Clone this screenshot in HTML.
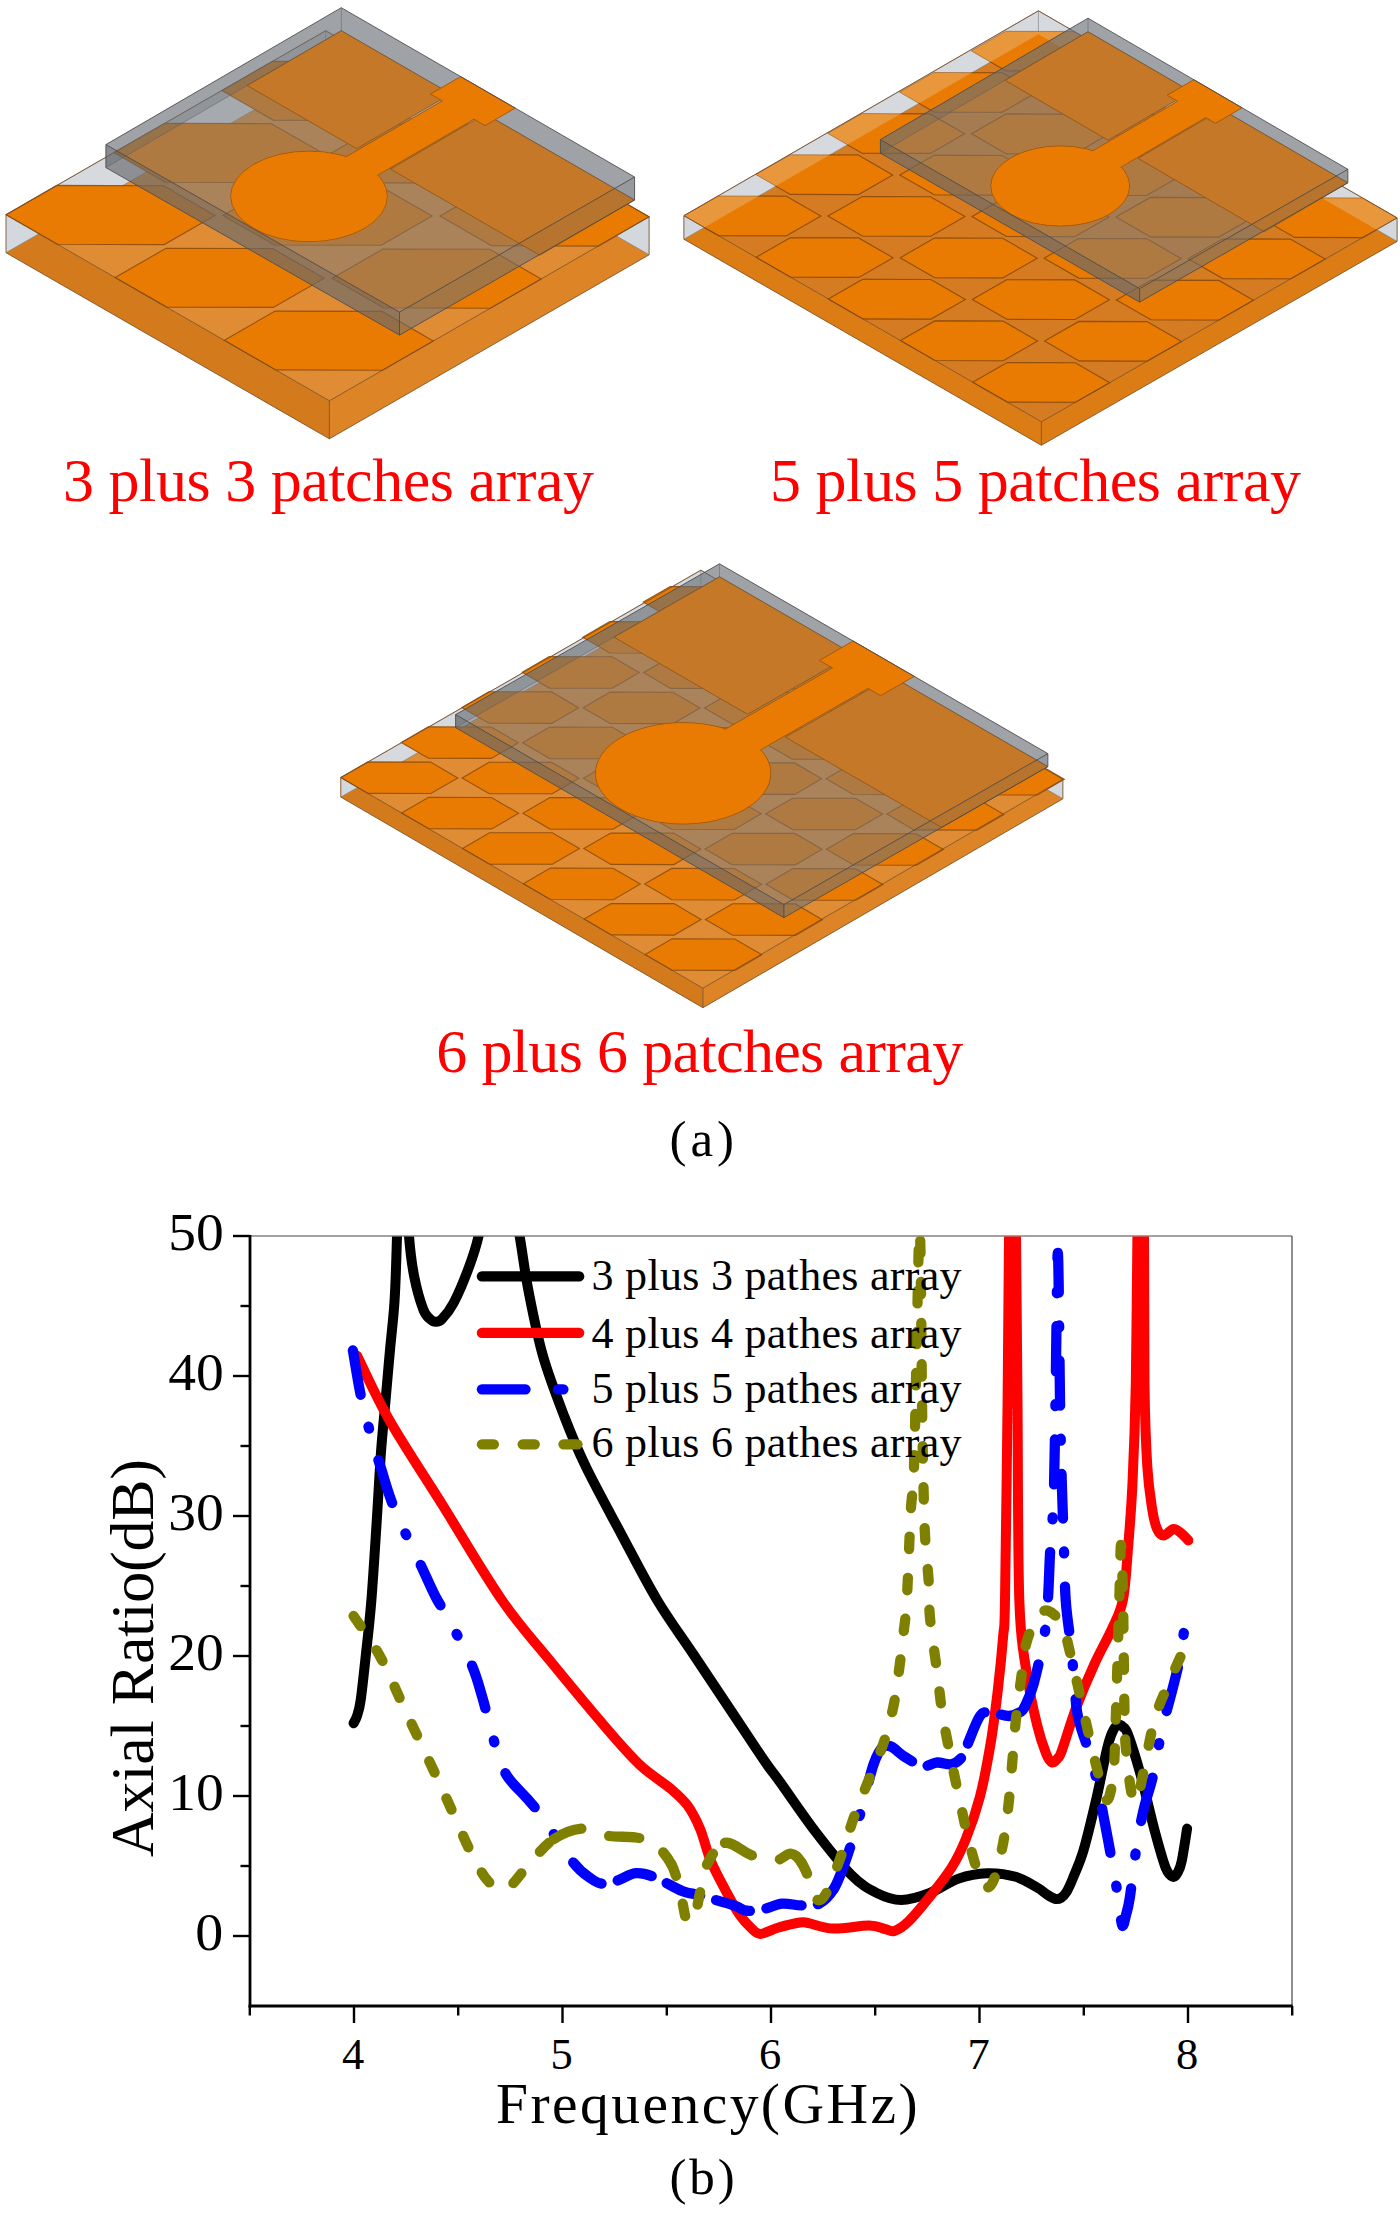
<!DOCTYPE html>
<html lang="en">
<head>
<meta charset="utf-8">
<title>Patch array antennas and axial ratio</title>
<style>
html,body{margin:0;padding:0;background:#fff;}
body{width:1400px;height:2214px;overflow:hidden;}
svg{display:block;}
svg text{font-family:'Liberation Serif',serif;}
</style>
</head>
<body>
<svg width="1400" height="2214" viewBox="0 0 1400 2214">
<defs>
<clipPath id="gclip1"><polygon points="6.0,252.7 329.4,438.8 649.1,254.8 325.7,68.7"/></clipPath>
<clipPath id="gclip2"><polygon points="683.9,239.2 1041.4,445.3 1397.1,241.4 1038.4,34.3"/></clipPath>
<clipPath id="gclip3"><polygon points="340.8,797.1 702.9,1007.7 1062.9,798.8 700.8,589.7"/></clipPath>
<clipPath id="plotclip"><rect x="250.0" y="1236.5" width="1042.0" height="770.0"/></clipPath>
</defs>
<rect x="0" y="0" width="1400" height="2214" fill="#fff"/>
<g id="ant1">
<polygon points="6.0,214.7 329.4,400.8 649.1,216.8 325.7,30.7" fill="#D6D9DD" />
<polygon points="6.0,214.7 329.4,400.8 329.4,438.8 6.0,252.7" fill="#D37A1C" />
<polygon points="329.4,400.8 649.1,216.8 649.1,254.8 329.4,438.8" fill="#DC8426" />
<polygon points="6.0,214.7 6.0,252.7 39.0,233.7" fill="#D3D8DE" />
<polygon points="649.1,216.8 649.1,254.8 616.1,235.8" fill="#D3D8DE" />
<polygon points="39.0,233.7 329.4,400.8 616.1,235.8 325.7,68.7" fill="#E08C34" />
<g stroke="#6E7680" stroke-width="0.8" fill="none" stroke-opacity="0.7">
<polyline points="6.0,252.7 39.0,233.7"/>
<polyline points="649.1,254.8 616.1,235.8"/>
<polyline points="39.0,233.7 325.7,68.7 616.1,235.8"/>
<polyline points="325.7,30.7 325.7,68.7"/>
<polyline points="6.0,214.7 325.7,30.7 649.1,216.8"/>
</g>
<g fill="#E97B02" stroke="#8A4A0A" stroke-width="1.1" stroke-opacity="0.85">
<polygon points="6.0,214.7 57.4,244.3 164.2,244.6 215.0,215.4 163.6,185.8 56.8,185.4"/>
<polygon points="113.9,152.6 165.3,182.2 272.1,182.5 322.9,153.3 271.5,123.7 164.7,123.3"/>
<polygon points="221.8,90.5 273.2,120.1 380.0,120.4 430.8,91.2 379.4,61.6 272.6,61.2"/>
<polygon points="115.1,277.5 166.6,307.1 273.3,307.4 324.2,278.2 272.7,248.6 166.0,248.3"/>
<polygon points="223.0,215.4 274.5,245.0 381.2,245.3 432.1,216.1 380.6,186.5 273.9,186.2"/>
<polygon points="330.9,153.3 382.4,182.9 489.1,183.2 540.0,154.0 488.5,124.4 381.8,124.1"/>
<polygon points="224.3,340.3 275.7,369.9 382.5,370.3 433.3,341.0 381.9,311.4 275.1,311.1"/>
<polygon points="332.2,278.2 383.6,307.8 490.4,308.2 541.2,278.9 489.8,249.3 383.0,249.0"/>
<polygon points="440.1,216.1 491.5,245.7 598.3,246.1 649.1,216.8 597.7,187.2 490.9,186.9"/>
</g>
<g stroke="#7A4E22" stroke-width="1" fill="none" stroke-opacity="0.85">
<polygon points="6.0,214.7 329.4,400.8 649.1,216.8 325.7,30.7"/>
<polyline points="6.0,214.7 6.0,252.7 329.4,438.8 649.1,254.8 649.1,216.8"/>
<polyline points="329.4,400.8 329.4,438.8"/>
</g>
<polygon points="105.9,144.6 341.3,7.7 634.6,177.0 634.6,200.0 399.5,335.1 105.9,167.6" fill="#767A80" fill-opacity="0.5" />
<polygon points="105.9,144.6 341.3,7.7 341.3,30.7 105.9,167.6" fill="#586068" fill-opacity="0.28" />
<polygon points="341.3,7.7 634.6,177.0 634.6,200.0 341.3,30.7" fill="#586068" fill-opacity="0.28" />
<polygon points="341.3,30.7 450.8,93.9 356.6,148.7 247.1,85.5" fill="#C47828" stroke="#8A5418" stroke-width="0.8" />
<polygon points="485.4,113.9 634.6,200.0 539.7,255.2 390.5,169.1" fill="#C47828" stroke="#8A5418" stroke-width="0.8" />
<polygon points="105.9,144.6 399.5,312.1 399.5,335.1 105.9,167.6" fill="#5A5A5A" fill-opacity="0.32" />
<polygon points="399.5,312.1 634.6,177.0 634.6,200.0 399.5,335.1" fill="#5A5A5A" fill-opacity="0.13" />
<g stroke="#555" stroke-width="0.8" fill="none" stroke-opacity="0.55">
<polyline points="105.9,167.6 341.3,30.7 634.6,200.0"/>
<polyline points="341.3,7.7 341.3,30.7"/>
</g>
<g fill="#E97B02" stroke="#A55A0C" stroke-width="1">
<ellipse cx="309.0" cy="196.4" rx="78.3" ry="45.3"/>
<polygon points="442.3,100.9 430.5,94.1 460.7,76.6 515.2,108.1 485.1,125.6 474.0,119.2 339.3,197.5 307.6,179.2"/>
</g>
<ellipse cx="309.0" cy="196.4" rx="77.5" ry="44.5" fill="#E97B02"/>
<polygon points="385.8,169.8 334.0,199.9 303.5,182.3 355.3,152.2" fill="#E97B02" />
<g stroke="#4A4A4A" stroke-width="1" fill="none" stroke-opacity="0.85">
<polygon points="105.9,144.6 399.5,312.1 634.6,177.0 341.3,7.7"/>
<polyline points="105.9,144.6 105.9,167.6 399.5,335.1 634.6,200.0 634.6,177.0"/>
<polyline points="399.5,312.1 399.5,335.1"/>
</g>
</g>
<g id="ant2">
<polygon points="683.9,215.7 1041.4,421.8 1397.1,217.9 1038.4,10.8" fill="#D6D9DD" />
<polygon points="683.9,215.7 1041.4,421.8 1041.4,445.3 683.9,239.2" fill="#DC7C14" />
<polygon points="1041.4,421.8 1397.1,217.9 1397.1,241.4 1041.4,445.3" fill="#DC7C14" />
<polygon points="683.9,215.7 683.9,239.2 704.3,227.5" fill="#D3D8DE" />
<polygon points="1397.1,217.9 1397.1,241.4 1376.7,229.6" fill="#D3D8DE" />
<polygon points="704.3,227.5 1041.4,421.8 1376.7,229.6 1038.4,34.3" fill="#D57C22" />
<g stroke="#6E7680" stroke-width="0.8" fill="none" stroke-opacity="0.7">
<polyline points="683.9,239.2 704.3,227.5"/>
<polyline points="1397.1,241.4 1376.7,229.6"/>
<polyline points="704.3,227.5 1038.4,34.3 1376.7,229.6"/>
<polyline points="1038.4,10.8 1038.4,34.3"/>
<polyline points="683.9,215.7 1038.4,10.8 1397.1,217.9"/>
</g>
<g fill="#E9973C" stroke="#8A4A0A" stroke-width="0.9" stroke-opacity="0.6">
<polygon points="683.9,215.7 718.4,235.6 786.5,235.8 820.8,216.1 786.3,196.2 718.2,196.0"/>
<polygon points="755.8,174.5 790.3,194.4 858.4,194.6 892.7,174.9 858.2,155.0 790.1,154.8"/>
<polygon points="827.6,133.3 862.1,153.2 930.2,153.4 964.5,133.7 930.0,113.9 861.9,113.6"/>
<polygon points="899.5,92.1 934.0,112.0 1002.1,112.2 1036.4,92.6 1001.9,72.7 933.8,72.5"/>
<polygon points="971.3,50.9 1005.8,70.8 1073.9,71.0 1108.2,51.4 1073.7,31.5 1005.6,31.3"/>
<polygon points="756.1,257.3 790.6,277.2 858.7,277.4 893.0,257.8 858.6,237.9 790.4,237.7"/>
<polygon points="828.0,216.1 862.5,236.0 930.6,236.2 964.9,216.6 930.4,196.7 862.3,196.5"/>
<polygon points="899.8,175.0 934.3,194.8 1002.4,195.1 1036.8,175.4 1002.3,155.5 934.1,155.3"/>
<polygon points="971.7,133.8 1006.2,153.7 1074.3,153.9 1108.6,134.2 1074.1,114.3 1006.0,114.1"/>
<polygon points="1043.5,92.6 1078.0,112.5 1146.1,112.7 1180.5,93.0 1146.0,73.1 1077.8,72.9"/>
<polygon points="828.3,299.0 862.8,318.9 930.9,319.1 965.3,299.4 930.8,279.5 862.7,279.3"/>
<polygon points="900.2,257.8 934.7,277.7 1002.8,277.9 1037.1,258.2 1002.6,238.3 934.5,238.1"/>
<polygon points="972.0,216.6 1006.5,236.5 1074.6,236.7 1109.0,217.0 1074.5,197.1 1006.4,196.9"/>
<polygon points="1043.9,175.4 1078.4,195.3 1146.5,195.5 1180.8,175.8 1146.3,155.9 1078.2,155.7"/>
<polygon points="1115.7,134.2 1150.2,154.1 1218.3,154.3 1252.7,134.6 1218.2,114.7 1150.1,114.5"/>
<polygon points="900.5,340.6 935.0,360.5 1003.2,360.7 1037.5,341.0 1003.0,321.1 934.9,320.9"/>
<polygon points="972.4,299.4 1006.9,319.3 1075.0,319.5 1109.3,299.8 1074.8,279.9 1006.7,279.7"/>
<polygon points="1044.2,258.2 1078.7,278.1 1146.9,278.3 1181.2,258.6 1146.7,238.8 1078.6,238.5"/>
<polygon points="1116.1,217.0 1150.6,236.9 1218.7,237.1 1253.0,217.5 1218.5,197.6 1150.4,197.4"/>
<polygon points="1188.0,175.8 1222.4,195.7 1290.6,195.9 1324.9,176.3 1290.4,156.4 1222.3,156.2"/>
<polygon points="972.8,382.2 1007.3,402.1 1075.4,402.3 1109.7,382.7 1075.2,362.8 1007.1,362.6"/>
<polygon points="1044.6,341.0 1079.1,360.9 1147.2,361.1 1181.5,341.5 1147.0,321.6 1078.9,321.4"/>
<polygon points="1116.5,299.9 1151.0,319.7 1219.1,320.0 1253.4,300.3 1218.9,280.4 1150.8,280.2"/>
<polygon points="1188.3,258.7 1222.8,278.6 1290.9,278.8 1325.2,259.1 1290.7,239.2 1222.6,239.0"/>
<polygon points="1260.2,217.5 1294.7,237.4 1362.8,237.6 1397.1,217.9 1362.6,198.0 1294.5,197.8"/>
</g>
<g clip-path="url(#gclip2)" fill="#E97B02" stroke="#8A4A0A" stroke-width="1.1" stroke-opacity="0.85">
<polygon points="683.9,215.7 718.4,235.6 786.5,235.8 820.8,216.1 786.3,196.2 718.2,196.0"/>
<polygon points="755.8,174.5 790.3,194.4 858.4,194.6 892.7,174.9 858.2,155.0 790.1,154.8"/>
<polygon points="827.6,133.3 862.1,153.2 930.2,153.4 964.5,133.7 930.0,113.9 861.9,113.6"/>
<polygon points="899.5,92.1 934.0,112.0 1002.1,112.2 1036.4,92.6 1001.9,72.7 933.8,72.5"/>
<polygon points="971.3,50.9 1005.8,70.8 1073.9,71.0 1108.2,51.4 1073.7,31.5 1005.6,31.3"/>
<polygon points="756.1,257.3 790.6,277.2 858.7,277.4 893.0,257.8 858.6,237.9 790.4,237.7"/>
<polygon points="828.0,216.1 862.5,236.0 930.6,236.2 964.9,216.6 930.4,196.7 862.3,196.5"/>
<polygon points="899.8,175.0 934.3,194.8 1002.4,195.1 1036.8,175.4 1002.3,155.5 934.1,155.3"/>
<polygon points="971.7,133.8 1006.2,153.7 1074.3,153.9 1108.6,134.2 1074.1,114.3 1006.0,114.1"/>
<polygon points="1043.5,92.6 1078.0,112.5 1146.1,112.7 1180.5,93.0 1146.0,73.1 1077.8,72.9"/>
<polygon points="828.3,299.0 862.8,318.9 930.9,319.1 965.3,299.4 930.8,279.5 862.7,279.3"/>
<polygon points="900.2,257.8 934.7,277.7 1002.8,277.9 1037.1,258.2 1002.6,238.3 934.5,238.1"/>
<polygon points="972.0,216.6 1006.5,236.5 1074.6,236.7 1109.0,217.0 1074.5,197.1 1006.4,196.9"/>
<polygon points="1043.9,175.4 1078.4,195.3 1146.5,195.5 1180.8,175.8 1146.3,155.9 1078.2,155.7"/>
<polygon points="1115.7,134.2 1150.2,154.1 1218.3,154.3 1252.7,134.6 1218.2,114.7 1150.1,114.5"/>
<polygon points="900.5,340.6 935.0,360.5 1003.2,360.7 1037.5,341.0 1003.0,321.1 934.9,320.9"/>
<polygon points="972.4,299.4 1006.9,319.3 1075.0,319.5 1109.3,299.8 1074.8,279.9 1006.7,279.7"/>
<polygon points="1044.2,258.2 1078.7,278.1 1146.9,278.3 1181.2,258.6 1146.7,238.8 1078.6,238.5"/>
<polygon points="1116.1,217.0 1150.6,236.9 1218.7,237.1 1253.0,217.5 1218.5,197.6 1150.4,197.4"/>
<polygon points="1188.0,175.8 1222.4,195.7 1290.6,195.9 1324.9,176.3 1290.4,156.4 1222.3,156.2"/>
<polygon points="972.8,382.2 1007.3,402.1 1075.4,402.3 1109.7,382.7 1075.2,362.8 1007.1,362.6"/>
<polygon points="1044.6,341.0 1079.1,360.9 1147.2,361.1 1181.5,341.5 1147.0,321.6 1078.9,321.4"/>
<polygon points="1116.5,299.9 1151.0,319.7 1219.1,320.0 1253.4,300.3 1218.9,280.4 1150.8,280.2"/>
<polygon points="1188.3,258.7 1222.8,278.6 1290.9,278.8 1325.2,259.1 1290.7,239.2 1222.6,239.0"/>
<polygon points="1260.2,217.5 1294.7,237.4 1362.8,237.6 1397.1,217.9 1362.6,198.0 1294.5,197.8"/>
</g>
<g stroke="#7A4E22" stroke-width="1" fill="none" stroke-opacity="0.85">
<polygon points="683.9,215.7 1041.4,421.8 1397.1,217.9 1038.4,10.8"/>
<polyline points="683.9,215.7 683.9,239.2 1041.4,445.3 1397.1,241.4 1397.1,217.9"/>
<polyline points="1041.4,421.8 1041.4,445.3"/>
</g>
<polygon points="880.4,139.6 1088.0,18.2 1347.9,169.3 1347.9,182.8 1139.6,302.1 880.4,153.1" fill="#767A80" fill-opacity="0.5" />
<polygon points="880.4,139.6 1088.0,18.2 1088.0,31.7 880.4,153.1" fill="#586068" fill-opacity="0.28" />
<polygon points="1088.0,18.2 1347.9,169.3 1347.9,182.8 1088.0,31.7" fill="#586068" fill-opacity="0.28" />
<polygon points="1088.0,31.7 1191.0,91.6 1108.0,140.2 1005.0,80.3" fill="#C47828" stroke="#8A5418" stroke-width="0.8" />
<polygon points="1221.7,109.4 1347.9,182.8 1264.2,231.7 1138.0,158.4" fill="#C47828" stroke="#8A5418" stroke-width="0.8" />
<polygon points="880.4,139.6 1139.6,288.6 1139.6,302.1 880.4,153.1" fill="#5A5A5A" fill-opacity="0.32" />
<polygon points="1139.6,288.6 1347.9,169.3 1347.9,182.8 1139.6,302.1" fill="#5A5A5A" fill-opacity="0.13" />
<g stroke="#555" stroke-width="0.8" fill="none" stroke-opacity="0.55">
<polyline points="880.4,153.1 1088.0,31.7 1347.9,182.8"/>
<polyline points="1088.0,18.2 1088.0,31.7"/>
</g>
<g fill="#E97B02" stroke="#A55A0C" stroke-width="1">
<ellipse cx="1060.2" cy="186.0" rx="69.4" ry="40.1"/>
<polygon points="1177.6,101.3 1167.2,95.2 1193.8,79.7 1242.1,107.8 1215.5,123.3 1205.7,117.6 1086.9,187.0 1058.9,170.7"/>
</g>
<ellipse cx="1060.2" cy="186.0" rx="68.6" ry="39.3" fill="#E97B02"/>
<polygon points="1127.9,162.5 1082.3,189.2 1055.2,173.5 1100.9,146.7" fill="#E97B02" />
<g stroke="#4A4A4A" stroke-width="1" fill="none" stroke-opacity="0.85">
<polygon points="880.4,139.6 1139.6,288.6 1347.9,169.3 1088.0,18.2"/>
<polyline points="880.4,139.6 880.4,153.1 1139.6,302.1 1347.9,182.8 1347.9,169.3"/>
<polyline points="1139.6,288.6 1139.6,302.1"/>
</g>
</g>
<g id="ant3">
<polygon points="340.8,777.6 702.9,988.2 1062.9,779.3 700.8,570.2" fill="#D6D9DD" />
<polygon points="340.8,777.6 702.9,988.2 702.9,1007.7 340.8,797.1" fill="#D37A1C" />
<polygon points="702.9,988.2 1062.9,779.3 1062.9,798.8 702.9,1007.7" fill="#DC8426" />
<polygon points="340.8,777.6 340.8,797.1 357.6,787.4" fill="#D3D8DE" />
<polygon points="1062.9,779.3 1062.9,798.8 1046.1,789.0" fill="#D3D8DE" />
<polygon points="357.6,787.4 702.9,988.2 1046.1,789.0 700.8,589.7" fill="#E08C34" />
<g stroke="#6E7680" stroke-width="0.8" fill="none" stroke-opacity="0.7">
<polyline points="340.8,797.1 357.6,787.4"/>
<polyline points="1062.9,798.8 1046.1,789.0"/>
<polyline points="357.6,787.4 700.8,589.7 1046.1,789.0"/>
<polyline points="700.8,570.2 700.8,589.7"/>
<polyline points="340.8,777.6 700.8,570.2 1062.9,779.3"/>
</g>
<g fill="#E97B02" stroke="#8A4A0A" stroke-width="1.1" stroke-opacity="0.85">
<polygon points="340.8,777.6 368.0,793.4 430.8,793.5 457.8,777.9 430.6,762.1 367.8,761.9"/>
<polygon points="401.3,742.5 428.4,758.3 491.3,758.4 518.3,742.8 491.1,727.0 428.3,726.8"/>
<polygon points="461.8,707.4 488.9,723.2 551.7,723.4 578.7,707.7 551.6,691.9 488.8,691.7"/>
<polygon points="522.2,672.3 549.4,688.1 612.2,688.3 639.2,672.6 612.1,656.8 549.2,656.6"/>
<polygon points="582.7,637.2 609.9,653.0 672.7,653.2 699.7,637.5 672.5,621.7 609.7,621.6"/>
<polygon points="643.2,602.1 670.4,617.9 733.2,618.1 760.2,602.4 733.0,586.6 670.2,586.5"/>
<polygon points="401.6,813.0 428.8,828.8 491.6,828.9 518.6,813.3 491.5,797.5 428.6,797.3"/>
<polygon points="462.1,777.9 489.3,793.7 552.1,793.8 579.1,778.2 551.9,762.4 489.1,762.2"/>
<polygon points="522.6,742.8 549.8,758.6 612.6,758.7 639.6,743.1 612.4,727.3 549.6,727.1"/>
<polygon points="583.1,707.7 610.2,723.5 673.1,723.6 700.1,708.0 672.9,692.2 610.1,692.0"/>
<polygon points="643.6,672.6 670.7,688.4 733.5,688.5 760.5,672.9 733.4,657.1 670.6,656.9"/>
<polygon points="704.0,637.5 731.2,653.3 794.0,653.4 821.0,637.8 793.9,622.0 731.0,621.8"/>
<polygon points="462.5,848.4 489.6,864.2 552.4,864.3 579.4,848.6 552.3,832.8 489.5,832.7"/>
<polygon points="522.9,813.3 550.1,829.1 612.9,829.2 639.9,813.5 612.8,797.7 549.9,797.6"/>
<polygon points="583.4,778.2 610.6,794.0 673.4,794.1 700.4,778.4 673.2,762.7 610.4,762.5"/>
<polygon points="643.9,743.1 671.1,758.9 733.9,759.0 760.9,743.4 733.7,727.6 670.9,727.4"/>
<polygon points="704.4,708.0 731.5,723.8 794.4,723.9 821.4,708.3 794.2,692.5 731.4,692.3"/>
<polygon points="764.9,672.9 792.0,688.7 854.8,688.8 881.8,673.2 854.7,657.4 791.9,657.2"/>
<polygon points="523.3,883.7 550.5,899.5 613.3,899.7 640.3,884.0 613.1,868.2 550.3,868.1"/>
<polygon points="583.8,848.6 610.9,864.4 673.8,864.6 700.8,848.9 673.6,833.1 610.8,833.0"/>
<polygon points="644.3,813.6 671.4,829.3 734.2,829.5 761.2,813.8 734.1,798.0 671.3,797.9"/>
<polygon points="704.7,778.5 731.9,794.3 794.7,794.4 821.7,778.7 794.6,762.9 731.7,762.8"/>
<polygon points="765.2,743.4 792.4,759.2 855.2,759.3 882.2,743.6 855.0,727.8 792.2,727.7"/>
<polygon points="825.7,708.3 852.9,724.1 915.7,724.2 942.7,708.5 915.5,692.7 852.7,692.6"/>
<polygon points="584.1,919.1 611.3,934.9 674.1,935.1 701.1,919.4 674.0,903.6 611.1,903.5"/>
<polygon points="644.6,884.0 671.8,899.8 734.6,900.0 761.6,884.3 734.4,868.5 671.6,868.4"/>
<polygon points="705.1,848.9 732.2,864.7 795.1,864.9 822.1,849.2 794.9,833.4 732.1,833.3"/>
<polygon points="765.6,813.8 792.7,829.6 855.6,829.8 882.6,814.1 855.4,798.3 792.6,798.2"/>
<polygon points="826.1,778.7 853.2,794.5 916.0,794.7 943.0,779.0 915.9,763.2 853.1,763.1"/>
<polygon points="886.5,743.6 913.7,759.4 976.5,759.6 1003.5,743.9 976.4,728.1 913.5,728.0"/>
<polygon points="645.0,954.5 672.1,970.3 734.9,970.4 761.9,954.8 734.8,939.0 672.0,938.8"/>
<polygon points="705.4,919.4 732.6,935.2 795.4,935.4 822.4,919.7 795.3,903.9 732.4,903.7"/>
<polygon points="765.9,884.3 793.1,900.1 855.9,900.3 882.9,884.6 855.7,868.8 792.9,868.6"/>
<polygon points="826.4,849.2 853.6,865.0 916.4,865.2 943.4,849.5 916.2,833.7 853.4,833.6"/>
<polygon points="886.9,814.1 914.0,829.9 976.9,830.1 1003.9,814.4 976.7,798.6 913.9,798.5"/>
<polygon points="947.4,779.0 974.5,794.8 1037.3,795.0 1064.3,779.3 1037.2,763.5 974.4,763.4"/>
</g>
<g stroke="#7A4E22" stroke-width="1" fill="none" stroke-opacity="0.85">
<polygon points="340.8,777.6 702.9,988.2 1062.9,779.3 700.8,570.2"/>
<polyline points="340.8,777.6 340.8,797.1 702.9,1007.7 1062.9,798.8 1062.9,779.3"/>
<polyline points="702.9,988.2 702.9,1007.7"/>
</g>
<polygon points="455.6,714.6 719.5,563.8 1047.9,753.6 1047.9,766.6 783.9,917.6 455.6,727.6" fill="#767A80" fill-opacity="0.5" />
<polygon points="455.6,714.6 719.5,563.8 719.5,576.8 455.6,727.6" fill="#586068" fill-opacity="0.28" />
<polygon points="719.5,563.8 1047.9,753.6 1047.9,766.6 719.5,576.8" fill="#586068" fill-opacity="0.28" />
<polygon points="719.5,576.8 853.0,654.0 747.5,714.3 613.9,637.1" fill="#C47828" stroke="#8A5418" stroke-width="0.8" />
<polygon points="891.8,676.4 1047.9,766.6 941.5,827.4 785.4,737.1" fill="#C47828" stroke="#8A5418" stroke-width="0.8" />
<polygon points="455.6,714.6 783.9,904.6 783.9,917.6 455.6,727.6" fill="#5A5A5A" fill-opacity="0.32" />
<polygon points="783.9,904.6 1047.9,753.6 1047.9,766.6 783.9,917.6" fill="#5A5A5A" fill-opacity="0.13" />
<g stroke="#555" stroke-width="0.8" fill="none" stroke-opacity="0.55">
<polyline points="455.6,727.6 719.5,576.8 1047.9,766.6"/>
<polyline points="719.5,563.8 719.5,576.8"/>
</g>
<g fill="#E97B02" stroke="#A55A0C" stroke-width="1">
<ellipse cx="683.1" cy="773.3" rx="87.7" ry="50.7"/>
<polygon points="832.5,667.9 819.4,660.4 853.2,641.0 914.2,676.4 880.5,695.7 868.0,688.4 717.0,774.7 681.6,754.2"/>
</g>
<ellipse cx="683.1" cy="773.3" rx="86.9" ry="49.9" fill="#E97B02"/>
<polygon points="769.2,744.2 711.1,777.3 676.9,757.6 735.0,724.4" fill="#E97B02" />
<g stroke="#4A4A4A" stroke-width="1" fill="none" stroke-opacity="0.85">
<polygon points="455.6,714.6 783.9,904.6 1047.9,753.6 719.5,563.8"/>
<polyline points="455.6,714.6 455.6,727.6 783.9,917.6 1047.9,766.6 1047.9,753.6"/>
<polyline points="783.9,904.6 783.9,917.6"/>
</g>
</g>
<text x="63.0" y="501.0" font-size="62" fill="#FF0000" text-anchor="start" textLength="531.0" lengthAdjust="spacing" >3 plus 3 patches array</text>
<text x="770.0" y="500.5" font-size="62" fill="#FF0000" text-anchor="start" textLength="531.0" lengthAdjust="spacing" >5 plus 5 patches array</text>
<text x="436.2" y="1072.3" font-size="62" fill="#FF0000" text-anchor="start" textLength="527.0" lengthAdjust="spacing" >6 plus 6 patches array</text>
<text x="669.4" y="1156.3" font-size="51" fill="#000" text-anchor="start" textLength="64.6" lengthAdjust="spacing" >(a)</text>
<text x="669.4" y="2193.7" font-size="51" fill="#000" text-anchor="start" textLength="65.4" lengthAdjust="spacing" >(b)</text>
<g id="chart">
<line x1="250.0" y1="1236.0" x2="1292.0" y2="1236.0" stroke="#444" stroke-width="1.2"/>
<line x1="1292.0" y1="1236.0" x2="1292.0" y2="2006.0" stroke="#444" stroke-width="1.2"/>
<g clip-path="url(#plotclip)" fill="none" stroke-linejoin="round">
<path d="M353.6,1723.2 C354.2,1722.0 355.8,1719.9 357.0,1716.0 C358.2,1712.1 359.2,1710.4 360.7,1700.0 C362.2,1689.6 364.2,1670.3 366.0,1653.6 C367.8,1636.9 369.6,1622.3 371.4,1600.0 C373.2,1577.7 375.2,1544.7 376.8,1520.0 C378.4,1495.3 379.5,1472.2 381.0,1452.0 C382.5,1431.8 384.2,1415.6 385.7,1398.6 C387.2,1381.6 388.5,1366.4 390.0,1350.0 C391.5,1333.6 393.4,1319.0 394.6,1300.0 C395.8,1281.0 396.4,1256.0 397.0,1236.0 C397.6,1216.0 397.9,1197.7 398.5,1180.0 C399.1,1162.3 399.8,1140.0 400.5,1130.0 C401.2,1120.0 402.1,1113.3 403.0,1120.0 C403.9,1126.7 405.0,1150.7 406.0,1170.0 C407.0,1189.3 407.6,1218.2 409.0,1236.0 C410.4,1253.8 411.9,1264.8 414.3,1277.0 C416.7,1289.2 420.6,1302.3 423.2,1309.3 C425.8,1316.3 427.9,1316.9 430.0,1319.0 C432.1,1321.1 433.7,1321.8 435.7,1321.8 C437.7,1321.8 439.0,1322.1 442.0,1319.0 C445.0,1315.9 449.3,1311.2 453.6,1303.0 C457.9,1294.8 463.7,1281.2 467.9,1270.0 C472.1,1258.8 475.2,1251.0 478.6,1236.0 C482.0,1221.0 484.8,1194.3 488.0,1180.0 C491.2,1165.7 494.7,1151.7 498.0,1150.0 C501.3,1148.3 504.4,1155.7 508.0,1170.0 C511.6,1184.3 516.2,1215.8 519.6,1236.0 C523.0,1256.2 524.7,1271.5 528.6,1291.4 C532.5,1311.4 537.0,1334.9 542.9,1355.7 C548.8,1376.5 557.2,1398.0 564.3,1416.4 C571.4,1434.9 576.2,1446.8 585.7,1466.4 C595.2,1486.1 609.5,1512.0 621.4,1534.3 C633.3,1556.6 645.2,1580.1 657.1,1600.0 C669.0,1619.9 681.0,1635.8 692.9,1653.6 C704.8,1671.4 716.7,1689.2 728.6,1707.1 C740.5,1724.9 755.7,1748.2 764.3,1760.7 C772.9,1773.2 771.4,1770.1 780.0,1782.0 C788.6,1793.9 803.8,1816.5 815.7,1832.0 C827.6,1847.5 841.3,1864.8 851.4,1875.0 C861.5,1885.2 868.1,1888.7 876.4,1892.9 C884.7,1897.1 892.5,1900.0 901.4,1900.0 C910.3,1900.0 920.5,1896.5 930.0,1892.9 C939.5,1889.3 949.1,1881.9 958.6,1878.6 C968.1,1875.3 977.6,1873.5 987.1,1873.2 C996.6,1872.9 1007.4,1874.4 1015.7,1876.8 C1024.0,1879.2 1031.9,1884.5 1037.1,1887.5 C1042.3,1890.5 1044.0,1892.6 1047.0,1894.5 C1050.0,1896.4 1052.7,1898.2 1055.0,1898.8 C1057.3,1899.3 1059.1,1898.9 1061.0,1897.8 C1062.9,1896.7 1064.5,1895.3 1066.5,1892.0 C1068.5,1888.7 1070.2,1885.0 1073.0,1878.0 C1075.8,1871.0 1079.8,1863.0 1083.6,1850.0 C1087.4,1837.0 1092.2,1816.7 1096.1,1800.0 C1100.0,1783.3 1104.1,1761.2 1106.8,1750.0 C1109.5,1738.8 1110.2,1737.2 1112.0,1733.0 C1113.8,1728.8 1115.7,1726.0 1117.5,1725.0 C1119.3,1724.0 1121.2,1725.3 1123.0,1727.0 C1124.8,1728.7 1125.2,1727.0 1128.2,1735.0 C1131.2,1743.0 1136.2,1758.8 1140.7,1775.0 C1145.2,1791.2 1150.8,1816.5 1155.0,1832.0 C1159.2,1847.5 1162.7,1860.4 1165.7,1867.9 C1168.7,1875.4 1170.9,1876.1 1172.9,1876.8 C1175.0,1877.5 1176.5,1874.7 1178.0,1872.0 C1179.5,1869.3 1180.3,1867.9 1181.8,1860.7 C1183.3,1853.5 1186.2,1833.9 1187.1,1828.6" stroke="#000" stroke-width="10" stroke-linecap="round"/>
<path d="M357.1,1355.7 C362.5,1366.4 375.0,1395.0 389.3,1420.0 C403.6,1445.0 424.1,1475.7 442.9,1505.7 C461.6,1535.7 483.9,1574.2 501.8,1600.0 C519.6,1625.8 533.0,1639.9 550.0,1660.7 C567.0,1681.5 588.7,1707.7 603.6,1725.0 C618.5,1742.3 628.0,1753.6 639.3,1764.3 C650.6,1775.0 663.4,1782.4 671.4,1789.3 C679.4,1796.2 682.7,1798.9 687.5,1805.4 C692.3,1812.0 696.1,1819.4 700.0,1828.6 C703.9,1837.8 706.5,1850.6 710.7,1860.7 C714.9,1870.8 720.2,1880.4 725.0,1889.3 C729.8,1898.2 734.8,1907.8 739.3,1914.3 C743.8,1920.8 748.2,1925.3 751.8,1928.6 C755.4,1931.9 756.2,1934.1 760.7,1933.9 C765.2,1933.7 772.1,1929.4 778.6,1927.5 C785.1,1925.6 795.0,1923.2 800.0,1922.5 C805.0,1921.8 803.0,1922.2 808.6,1923.2 C814.2,1924.2 823.5,1928.2 833.6,1928.6 C843.7,1929.0 860.7,1925.4 869.3,1925.5 C877.9,1925.6 880.8,1928.1 885.0,1929.0 C889.2,1929.9 890.4,1932.3 894.3,1931.0 C898.2,1929.7 902.6,1927.2 908.6,1921.4 C914.6,1915.6 922.9,1905.3 930.0,1896.4 C937.1,1887.5 945.4,1877.4 951.4,1867.9 C957.4,1858.4 960.9,1851.2 965.7,1839.3 C970.5,1827.4 975.8,1812.5 980.0,1796.4 C984.2,1780.3 987.7,1760.8 990.7,1742.9 C993.7,1725.1 995.8,1707.2 997.9,1689.3 C1000.0,1671.4 1002.0,1650.6 1003.2,1635.7 C1004.4,1620.8 1004.3,1639.3 1005.0,1600.0 C1005.7,1560.7 1006.9,1460.7 1007.6,1400.0 C1008.3,1339.3 1008.4,1282.7 1009.0,1236.0 C1009.6,1189.3 1010.2,1139.3 1011.0,1120.0 C1011.8,1100.7 1012.7,1100.7 1013.5,1120.0 C1014.3,1139.3 1015.3,1189.3 1016.0,1236.0 C1016.7,1282.7 1017.0,1339.3 1017.5,1400.0 C1018.0,1460.7 1017.8,1554.8 1019.3,1600.0 C1020.8,1645.2 1023.4,1650.6 1026.4,1671.4 C1029.4,1692.2 1033.8,1711.3 1037.1,1725.0 C1040.4,1738.7 1043.6,1747.3 1046.1,1753.6 C1048.6,1759.8 1050.1,1761.8 1052.1,1762.5 C1054.1,1763.2 1056.3,1760.1 1058.0,1758.0 C1059.7,1755.9 1059.0,1758.5 1062.1,1750.0 C1065.2,1741.5 1071.0,1721.4 1076.4,1707.1 C1081.8,1692.8 1088.3,1677.4 1094.3,1664.3 C1100.2,1651.2 1107.3,1639.3 1112.1,1628.6 C1116.9,1617.9 1120.2,1613.3 1122.9,1600.0 C1125.6,1586.7 1126.4,1568.1 1128.0,1548.6 C1129.6,1529.1 1131.2,1510.4 1132.5,1483.0 C1133.8,1455.6 1135.0,1425.4 1135.8,1384.3 C1136.6,1343.2 1136.8,1280.5 1137.4,1236.4 C1138.0,1192.4 1138.7,1139.4 1139.5,1120.0 C1140.3,1100.6 1141.2,1100.7 1142.0,1120.0 C1142.8,1139.3 1143.6,1192.0 1144.0,1236.0 C1144.4,1280.0 1144.0,1345.6 1144.5,1384.0 C1145.0,1422.4 1146.0,1445.6 1147.3,1466.5 C1148.6,1487.4 1150.6,1498.8 1152.2,1509.2 C1153.8,1519.6 1155.2,1524.6 1157.1,1529.0 C1159.0,1533.4 1161.0,1535.5 1163.7,1535.5 C1166.5,1535.5 1170.6,1529.3 1173.6,1529.0 C1176.6,1528.7 1179.3,1531.9 1181.8,1533.8 C1184.2,1535.7 1187.2,1539.3 1188.3,1540.4" stroke="#FF0000" stroke-width="10" stroke-linecap="round"/>
<path d="M352.9,1350.4 C354.2,1357.8 357.9,1381.6 360.7,1395.0 C363.5,1408.4 366.3,1418.8 369.6,1430.7 C372.9,1442.6 376.2,1453.3 380.4,1466.4 C384.6,1479.5 387.8,1492.6 394.6,1509.3 C401.4,1526.0 414.5,1551.8 421.4,1566.4 C428.2,1581.0 430.9,1587.8 435.7,1597.0 C440.5,1606.2 444.1,1610.2 450.0,1621.4 C455.9,1632.6 466.0,1651.8 471.4,1664.3 C476.8,1676.8 478.8,1685.4 482.1,1696.4 C485.4,1707.4 488.1,1719.7 491.1,1730.4 C494.1,1741.1 497.0,1752.7 500.0,1760.7 C503.0,1768.7 504.4,1772.3 508.9,1778.6 C513.4,1784.8 521.1,1791.7 526.8,1798.2 C532.5,1804.8 535.2,1807.2 542.9,1817.9 C550.6,1828.6 565.2,1852.4 573.2,1862.5" stroke="#0000FF" stroke-width="10.3" stroke-linecap="round" stroke-dasharray="45 33 2 33"/>
<path d="M573.2,1862.5 C581.2,1872.6 586.0,1875.0 591.1,1878.6 C596.2,1882.2 599.1,1883.6 603.6,1883.9 C608.1,1884.2 612.5,1882.2 617.9,1880.4 C623.2,1878.6 629.8,1873.8 635.7,1873.2 C641.7,1872.6 645.9,1873.8 653.6,1876.8 C661.3,1879.8 675.0,1888.1 682.1,1891.1 C689.2,1894.1 687.8,1892.2 696.4,1894.6 C705.0,1897.0 725.6,1902.7 733.9,1905.4 C742.2,1908.1 741.3,1910.1 746.4,1910.7 C751.5,1911.3 758.3,1910.1 764.3,1908.9 C770.2,1907.7 775.9,1904.2 782.1,1903.6 C788.3,1903.0 795.2,1905.4 801.4,1905.4 C807.6,1905.4 813.9,1906.3 819.3,1903.6 C824.7,1900.9 829.4,1895.8 833.6,1889.3" stroke="#0000FF" stroke-width="10.3" stroke-linecap="round" stroke-dasharray="36 16.5"/>
<path d="M833.6,1889.3 C837.8,1882.8 840.7,1873.8 844.3,1864.3 C847.9,1854.8 851.7,1842.7 855.0,1832.0 C858.3,1821.3 860.8,1811.3 863.9,1800.0 C867.0,1788.7 870.6,1772.9 873.6,1764.3 C876.6,1755.7 878.9,1751.2 881.8,1748.2" stroke="#0000FF" stroke-width="10.3" stroke-linecap="round" stroke-dasharray="45 33 2 33"/>
<path d="M881.8,1748.2 C884.6,1745.2 886.8,1744.9 890.7,1746.4 C894.6,1747.9 899.6,1753.7 905.0,1757.0 C910.4,1760.3 917.5,1765.1 922.9,1766.0 C928.2,1766.9 932.4,1762.8 937.1,1762.5 C941.9,1762.2 947.2,1765.2 951.4,1764.3 C955.6,1763.4 959.4,1760.3 962.1,1757.0 C964.8,1753.7 964.5,1751.4 967.5,1744.6 C970.5,1737.8 976.1,1721.3 980.0,1716.0 C983.9,1710.7 985.9,1712.5 990.7,1712.5 C995.5,1712.5 1003.8,1716.0 1008.6,1716.0 C1013.4,1716.0 1016.6,1714.0 1019.3,1712.5 C1022.0,1711.0 1022.2,1711.8 1024.6,1707.0" stroke="#0000FF" stroke-width="10.3" stroke-linecap="round" stroke-dasharray="36 16.5"/>
<path d="M1024.6,1707.0 C1027.0,1702.2 1030.3,1695.9 1033.6,1684.0 C1036.9,1672.1 1041.9,1649.7 1044.3,1635.7 C1046.7,1621.7 1046.9,1614.5 1047.9,1600.0 C1048.9,1585.5 1049.3,1565.4 1050.3,1548.6 C1051.2,1531.8 1052.7,1524.1 1053.6,1499.3 C1054.5,1474.5 1055.0,1433.2 1055.5,1400.0 C1056.0,1366.8 1056.5,1322.7 1056.8,1300.0 C1057.1,1277.3 1057.1,1271.8 1057.3,1264.0 C1057.5,1256.2 1057.6,1253.0 1057.8,1253.0 C1058.0,1253.0 1058.1,1256.2 1058.3,1264.0 C1058.5,1271.8 1058.6,1277.3 1058.9,1300.0 C1059.2,1322.7 1059.5,1369.5 1060.0,1400.0 C1060.5,1430.5 1061.2,1461.0 1061.8,1483.0 C1062.4,1505.0 1062.8,1512.5 1063.5,1532.0 C1064.2,1551.5 1064.4,1580.9 1065.7,1600.0 C1067.0,1619.1 1069.6,1632.1 1071.1,1646.4 C1072.6,1660.7 1073.4,1673.8 1074.6,1685.7 C1075.8,1697.6 1075.5,1706.0 1078.2,1717.9 C1080.9,1729.8 1087.4,1745.7 1090.7,1757.0 C1094.0,1768.3 1095.8,1776.2 1097.9,1785.7 C1100.0,1795.2 1101.4,1804.8 1103.2,1814.3 C1105.0,1823.8 1106.2,1829.8 1108.6,1842.9 C1111.0,1856.0 1115.2,1879.2 1117.5,1892.9 C1119.8,1906.6 1120.7,1921.3 1122.1,1925.0 C1123.5,1928.7 1124.7,1919.8 1126.0,1915.0 C1127.3,1910.2 1128.2,1908.4 1130.0,1896.4 C1131.8,1884.4 1134.7,1857.8 1137.1,1842.9 C1139.5,1828.0 1141.6,1818.3 1144.3,1807.0 C1147.0,1795.7 1150.2,1788.1 1153.2,1775.0 C1156.2,1761.9 1159.1,1742.0 1162.1,1728.6 C1165.1,1715.2 1168.1,1706.5 1171.1,1694.6 C1174.1,1682.7 1177.3,1671.6 1180.0,1657.0 C1182.7,1642.4 1186.2,1615.3 1187.5,1607.0" stroke="#0000FF" stroke-width="10.3" stroke-linecap="round" stroke-dasharray="45 33 2 33"/>
<path d="M353.6,1616.0 C358.1,1622.8 371.8,1641.2 380.4,1657.0 C389.0,1672.8 396.2,1691.0 405.4,1710.7 C414.6,1730.4 427.7,1757.7 435.7,1775.0 C443.7,1792.3 447.7,1801.2 453.6,1814.3 C459.6,1827.4 465.8,1842.6 471.4,1853.6 C477.0,1864.6 482.4,1874.5 487.5,1880.4 C492.6,1886.4 497.6,1888.7 501.8,1889.3 C506.0,1889.9 507.7,1888.4 512.5,1883.9 C517.3,1879.4 523.5,1869.9 530.4,1862.5 C537.2,1855.1 545.0,1845.0 553.6,1839.3" stroke="#808000" stroke-width="10.3" stroke-linecap="round" stroke-dasharray="12.5 28.5"/>
<path d="M553.6,1839.3 C562.2,1833.6 573.2,1829.2 582.1,1828.6 C591.0,1828.0 598.2,1834.2 607.1,1835.7 C616.0,1837.2 628.0,1836.3 635.7,1837.5 C643.5,1838.7 647.7,1838.4 653.6,1842.9 C659.5,1847.4 666.9,1856.0 671.4,1864.3" stroke="#808000" stroke-width="10.3" stroke-linecap="round" stroke-dasharray="30 29"/>
<path d="M671.4,1864.3 C675.9,1872.6 678.0,1884.0 680.4,1892.9 C682.8,1901.8 684.1,1913.2 685.7,1917.9 C687.3,1922.6 688.5,1921.0 690.0,1921.0 C691.5,1921.0 692.9,1922.6 694.6,1917.9 C696.3,1913.2 697.9,1901.8 700.0,1892.9 C702.1,1884.0 702.9,1872.6 707.1,1864.3 C711.3,1856.0 717.5,1844.4 725.0,1842.9" stroke="#808000" stroke-width="10.3" stroke-linecap="round" stroke-dasharray="12.5 28.5"/>
<path d="M725.0,1842.9 C732.5,1841.4 743.5,1852.4 751.8,1855.4 C760.1,1858.4 768.5,1861.0 775.0,1860.7 C781.5,1860.4 786.3,1853.3 790.7,1853.6 C795.1,1853.9 797.8,1857.2 801.4,1862.5" stroke="#808000" stroke-width="10.3" stroke-linecap="round" stroke-dasharray="30 29"/>
<path d="M801.4,1862.5 C805.0,1867.8 809.4,1879.5 812.1,1885.7 C814.8,1892.0 815.1,1898.8 817.5,1900.0 C819.9,1901.2 822.5,1900.1 826.4,1892.9 C830.3,1885.7 835.9,1870.1 840.7,1857.0 C845.5,1843.9 850.2,1827.4 855.0,1814.3 C859.8,1801.2 864.5,1790.5 869.3,1778.6 C874.1,1766.7 879.7,1754.2 883.6,1742.9 C887.5,1731.6 890.1,1721.4 892.5,1710.7 C894.9,1700.0 896.1,1691.1 897.9,1678.6 C899.7,1666.1 901.7,1648.8 903.2,1635.7 C904.7,1622.6 905.5,1620.5 906.8,1600.0 C908.0,1579.5 909.5,1534.8 910.7,1512.5 C911.9,1490.2 912.9,1498.8 914.0,1466.5 C915.1,1434.2 916.4,1356.3 917.2,1318.6 C918.0,1280.8 918.5,1250.9 919.0,1240.0 C919.5,1229.1 920.0,1223.5 920.5,1253.0 C921.0,1282.5 921.7,1376.0 922.2,1417.0 C922.8,1458.0 923.3,1478.5 923.8,1499.3 C924.3,1520.1 924.6,1528.3 925.4,1542.0 C926.2,1555.7 927.9,1568.8 928.7,1581.5 C929.5,1594.2 928.6,1602.9 930.0,1617.9 C931.4,1632.9 935.0,1655.3 937.1,1671.4 C939.2,1687.5 940.1,1699.4 942.5,1714.3 C944.9,1729.2 948.4,1745.8 951.4,1760.7 C954.4,1775.6 957.4,1789.9 960.4,1803.6 C963.4,1817.3 966.0,1830.4 969.3,1842.9 C972.6,1855.4 977.0,1871.2 980.0,1878.6 C983.0,1886.0 984.7,1887.5 987.1,1887.5 C989.5,1887.5 991.6,1886.0 994.3,1878.6 C997.0,1871.2 1000.8,1855.4 1003.2,1842.9 C1005.6,1830.4 1007.1,1816.7 1008.6,1803.6 C1010.1,1790.5 1010.9,1778.0 1012.1,1764.3 C1013.3,1750.6 1014.2,1735.7 1015.7,1721.4 C1017.2,1707.1 1019.3,1691.7 1021.1,1678.6 C1022.9,1665.5 1023.7,1653.0 1026.4,1642.9 C1029.1,1632.8 1033.5,1623.3 1037.1,1617.9 C1040.7,1612.5 1043.7,1609.5 1047.9,1610.7 C1052.1,1611.9 1058.2,1617.3 1062.1,1625.0 C1066.0,1632.7 1067.8,1643.9 1071.1,1657.0 C1074.4,1670.1 1078.5,1689.3 1081.8,1703.6 C1085.1,1717.9 1087.4,1729.2 1090.7,1742.9 C1094.0,1756.6 1098.7,1776.2 1101.4,1785.7 C1104.1,1795.2 1105.2,1799.3 1106.8,1800.0 C1108.4,1800.7 1109.8,1795.3 1111.0,1790.0 C1112.2,1784.7 1113.1,1779.3 1113.9,1767.9 C1114.7,1756.5 1114.8,1749.4 1115.7,1721.4 C1116.6,1693.4 1118.4,1629.4 1119.3,1600.0 C1120.2,1570.6 1120.4,1545.0 1121.0,1545.0 C1121.6,1545.0 1122.4,1571.2 1123.0,1600.0 C1123.6,1628.8 1124.0,1692.3 1124.6,1717.9 C1125.2,1743.5 1125.2,1740.8 1126.4,1753.6 C1127.6,1766.4 1130.0,1786.9 1131.8,1794.6 C1133.6,1802.3 1135.0,1804.5 1137.1,1800.0 C1139.2,1795.5 1141.3,1781.6 1144.3,1767.9 C1147.3,1754.2 1150.8,1732.2 1155.0,1717.9 C1159.2,1703.6 1164.5,1693.3 1169.3,1682.0 C1174.1,1670.7 1180.6,1656.5 1183.6,1650.0 C1186.6,1643.5 1186.5,1644.2 1187.1,1643.0" stroke="#808000" stroke-width="10.3" stroke-linecap="round" stroke-dasharray="12.5 28.5"/>
</g>
<g stroke="#000" stroke-width="2.8" stroke-linecap="butt">
<line x1="250.0" y1="1235.0" x2="250.0" y2="2007.4"/>
<line x1="248.6" y1="2006.0" x2="1292.6" y2="2006.0"/>
</g>
<g stroke="#000" stroke-width="2.4">
<line x1="233.0" y1="1936.0" x2="250.0" y2="1936.0"/>
<line x1="240.5" y1="1866.0" x2="250.0" y2="1866.0"/>
<line x1="233.0" y1="1796.0" x2="250.0" y2="1796.0"/>
<line x1="240.5" y1="1726.0" x2="250.0" y2="1726.0"/>
<line x1="233.0" y1="1656.0" x2="250.0" y2="1656.0"/>
<line x1="240.5" y1="1586.0" x2="250.0" y2="1586.0"/>
<line x1="233.0" y1="1516.0" x2="250.0" y2="1516.0"/>
<line x1="240.5" y1="1446.0" x2="250.0" y2="1446.0"/>
<line x1="233.0" y1="1376.0" x2="250.0" y2="1376.0"/>
<line x1="240.5" y1="1306.0" x2="250.0" y2="1306.0"/>
<line x1="233.0" y1="1236.0" x2="250.0" y2="1236.0"/>
<line x1="249.8" y1="2006.0" x2="249.8" y2="2015.5"/>
<line x1="354.0" y1="2006.0" x2="354.0" y2="2023.0"/>
<line x1="458.2" y1="2006.0" x2="458.2" y2="2015.5"/>
<line x1="562.5" y1="2006.0" x2="562.5" y2="2023.0"/>
<line x1="666.8" y1="2006.0" x2="666.8" y2="2015.5"/>
<line x1="771.0" y1="2006.0" x2="771.0" y2="2023.0"/>
<line x1="875.2" y1="2006.0" x2="875.2" y2="2015.5"/>
<line x1="979.5" y1="2006.0" x2="979.5" y2="2023.0"/>
<line x1="1083.8" y1="2006.0" x2="1083.8" y2="2015.5"/>
<line x1="1188.0" y1="2006.0" x2="1188.0" y2="2023.0"/>
<line x1="1292.2" y1="2006.0" x2="1292.2" y2="2015.5"/>
</g>
<text x="195.3" y="1950.3" font-size="52.5" fill="#000" text-anchor="start" textLength="28.0" lengthAdjust="spacingAndGlyphs" >0</text>
<text x="168.3" y="1810.3" font-size="52.5" fill="#000" text-anchor="start" textLength="55.5" lengthAdjust="spacingAndGlyphs" >10</text>
<text x="168.3" y="1670.3" font-size="52.5" fill="#000" text-anchor="start" textLength="55.5" lengthAdjust="spacingAndGlyphs" >20</text>
<text x="168.3" y="1530.3" font-size="52.5" fill="#000" text-anchor="start" textLength="55.5" lengthAdjust="spacingAndGlyphs" >30</text>
<text x="168.3" y="1390.3" font-size="52.5" fill="#000" text-anchor="start" textLength="55.5" lengthAdjust="spacingAndGlyphs" >40</text>
<text x="168.3" y="1250.3" font-size="52.5" fill="#000" text-anchor="start" textLength="55.5" lengthAdjust="spacingAndGlyphs" >50</text>
<text x="353.0" y="2069.0" font-size="44.5" fill="#000" text-anchor="middle" >4</text>
<text x="561.5" y="2069.0" font-size="44.5" fill="#000" text-anchor="middle" >5</text>
<text x="770.0" y="2069.0" font-size="44.5" fill="#000" text-anchor="middle" >6</text>
<text x="978.5" y="2069.0" font-size="44.5" fill="#000" text-anchor="middle" >7</text>
<text x="1187.0" y="2069.0" font-size="44.5" fill="#000" text-anchor="middle" >8</text>
<text x="496.0" y="2123.1" font-size="57.5" fill="#000" text-anchor="start" textLength="421.6" lengthAdjust="spacing" >Frequency(GHz)</text>
<text transform="translate(152.9,1857) rotate(-90)" font-size="62" textLength="398" lengthAdjust="spacing" fill="#000">Axial Ratio(dB)</text>
<g fill="none" stroke-width="10.3" stroke-linecap="round">
<line x1="481.9" y1="1276.4" x2="579.2" y2="1276.4" stroke="#000"/>
<line x1="481.9" y1="1332.9" x2="579.2" y2="1332.9" stroke="#FF0000"/>
<line x1="481.9" y1="1389.3" x2="525.5" y2="1389.3" stroke="#0000FF"/>
<line x1="558" y1="1389.3" x2="563.4" y2="1389.3" stroke="#0000FF"/>
<line x1="481.9" y1="1444.3" x2="493.9" y2="1444.3" stroke="#808000"/>
<line x1="522.7" y1="1444.3" x2="534.8" y2="1444.3" stroke="#808000"/>
<line x1="563.5" y1="1444.3" x2="577.5" y2="1444.3" stroke="#808000"/>
</g>
<text x="591.5" y="1290.1" font-size="44" fill="#000" text-anchor="start" textLength="370.0" lengthAdjust="spacing" >3 plus 3 pathes array</text>
<text x="591.5" y="1347.7" font-size="44" fill="#000" text-anchor="start" textLength="370.0" lengthAdjust="spacing" >4 plus 4 pathes array</text>
<text x="591.5" y="1403.4" font-size="44" fill="#000" text-anchor="start" textLength="370.0" lengthAdjust="spacing" >5 plus 5 pathes array</text>
<text x="591.5" y="1457.3" font-size="44" fill="#000" text-anchor="start" textLength="370.0" lengthAdjust="spacing" >6 plus 6 pathes array</text>
</g>
</svg>
</body>
</html>
